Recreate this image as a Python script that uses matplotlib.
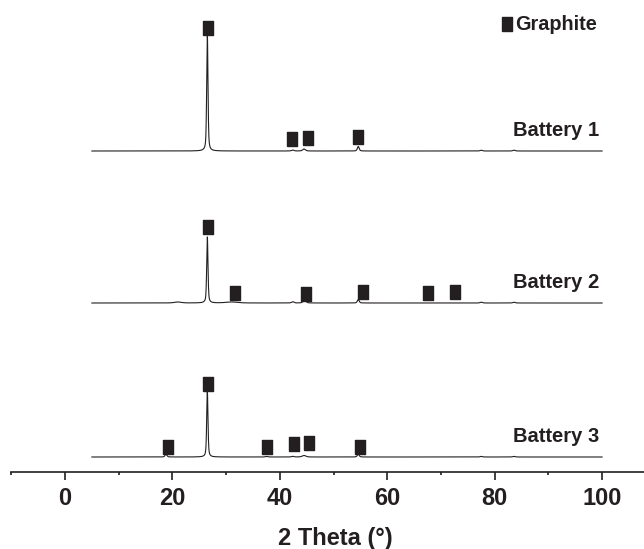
import numpy as np
import matplotlib.pyplot as plt
from matplotlib.ticker import MultipleLocator

plt.rcParams['font.family'] = ['Liberation Sans', 'DejaVu Sans']
plt.rcParams['font.weight'] = 'bold'

ink = '#231f20'

# peak lists: 2theta, height above baseline, FWHM
b1_pos = [26.5, 42.4, 44.5, 54.6, 77.5, 83.6]
b1_h = [117, 1.0, 2.0, 4.5, 0.8, 0.8]
b1_w = [0.28, 0.5, 0.6, 0.4, 0.5, 0.5]

b2_pos = [21.0, 26.5, 31.0, 42.4, 44.6, 54.6, 77.5, 83.6]
b2_h = [1.0, 66, 1.0, 1.2, 3.0, 3.5, 0.8, 0.8]
b2_w = [1.5, 0.28, 2.5, 0.5, 0.6, 0.4, 0.5, 0.5]

b3_pos = [18.8, 26.5, 37.5, 42.4, 44.5, 54.6, 77.5, 83.6]
b3_h = [3.0, 66, 0.6, 0.7, 1.5, 3.0, 0.6, 0.6]
b3_w = [0.4, 0.28, 0.5, 0.5, 0.8, 0.4, 0.5, 0.5]

# graphite markers: 2theta and height above baseline
m1_pos = [26.6, 42.3, 45.3, 54.5]
m1_h = [123, 12, 13, 14]
m2_pos = [26.6, 31.6, 44.8, 55.5, 67.6, 72.6]
m2_h = [76, 10, 9, 11, 10, 11]
m3_pos = [26.7, 19.1, 37.7, 42.6, 45.4, 54.9]
m3_h = [73, 10, 10, 13, 14, 10]

labels = ['Battery 1', 'Battery 2', 'Battery 3']
offsets = [320.7, 168.7, 14.7]

two_theta = np.arange(5, 100.001, 0.01)


def pattern(pos, h, w):
    y = np.zeros_like(two_theta)
    for c, a, fw in zip(pos, h, w):
        u = (two_theta - c) / (fw / 2)
        y += a * (0.5 / (1 + u ** 2) + 0.5 * np.exp(-np.log(2) * u ** 2))
    return y


fig = plt.figure(figsize=(6.44, 5.49), dpi=100)
ax = fig.add_axes([11.3 / 644, (549 - 471.7) / 549, 1 - 11.3 / 644, 471.7 / 549])

peaks = [(b1_pos, b1_h, b1_w), (b2_pos, b2_h, b2_w), (b3_pos, b3_h, b3_w)]
marks = [(m1_pos, m1_h), (m2_pos, m2_h), (m3_pos, m3_h)]
rect = [(-0.36, -0.5), (0.36, -0.5), (0.36, 0.5), (-0.36, 0.5), (-0.36, -0.5)]

for (p, h, w), (mp, mh), lab, off in zip(peaks, marks, labels, offsets):
    ax.plot(two_theta, pattern(p, h, w) + off, color=ink, lw=0.8)
    ax.plot(mp, np.array(mh) + off, ls='none', marker=rect, ms=9.6,
            color=ink, mec=ink)
    ax.text(99.5, off + 21, lab, ha='right', va='center', fontsize=14.5,
            fontweight='bold', color=ink)

ax.plot([82.3], [447.7], ls='none', marker=rect, ms=9.6, color=ink)
ax.text(83.8, 447.7, 'Graphite', ha='left', va='center', fontsize=14.3,
        fontweight='bold', color=ink)

ax.set_xlim(-10, 107.8)
ax.set_ylim(0, 471.7)
ax.set_yticks([])
for s in ['top', 'right', 'left']:
    ax.spines[s].set_visible(False)
ax.spines['bottom'].set_linewidth(1.2)
ax.spines['bottom'].set_color(ink)
ax.xaxis.set_major_locator(MultipleLocator(20))
ax.xaxis.set_minor_locator(MultipleLocator(10))
ax.tick_params(axis='x', which='major', direction='out', length=6, width=1.2,
               color=ink, labelsize=17, labelcolor=ink, pad=5)
ax.tick_params(axis='x', which='minor', direction='out', length=2.5, width=1.2,
               color=ink)
ax.set_xticks(np.arange(0, 101, 20))
ax.set_xlabel('2 Theta (°)', fontsize=17, fontweight='bold', color=ink)
ax.xaxis.set_label_coords((335.5 - 11.3) / 632.7, -55 / 471.7)

fig.savefig('out.png', dpi=100)
